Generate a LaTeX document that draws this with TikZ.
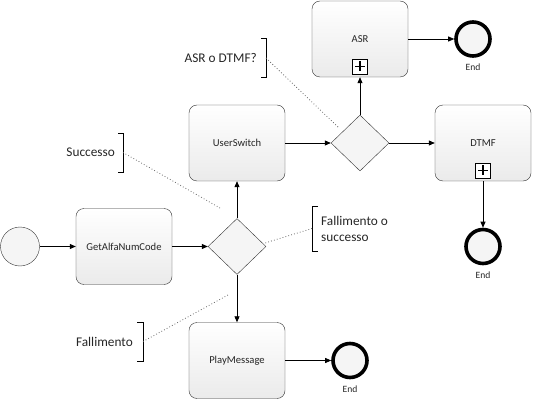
\documentclass[tikz,border=0pt]{standalone}
\usepackage{fontspec}
\setmainfont{Carlito}
\usetikzlibrary{arrows.meta, positioning, calc, shapes.geometric}

\begin{document}
\begin{tikzpicture}[
        x=1pt, y=-1pt,
        every node/.style={font=\fontsize{10.6}{13}\selectfont, text=black!85}, % Carlito everywhere
        task/.style={draw=black!80, rounded corners=8pt, minimum width=96pt, minimum height=76pt, top color=white, bottom color=black!8, inner sep=0pt},
        gateway/.style={draw=black!80, diamond, minimum width=58pt, minimum height=56pt, fill=black!4, inner sep=0pt},
        start_ev/.style={draw=black!80, circle, minimum size=39pt, fill=black!4, inner sep=0pt},
        end_ev/.style={draw=black, line width=3.6pt, circle, minimum size=34pt, fill=black!4, inner sep=0pt},
        sub_mark/.style={draw=black, rectangle, minimum size=15pt, fill=white, inner sep=0pt},
        note/.style={font=\fontsize{13.3}{16}\selectfont, inner sep=0pt, align=left},
        ev_label/.style={font=\fontsize{9.6}{11}\selectfont, inner sep=0pt},
        flow/.style={-{Triangle[length=6pt, width=5pt]}, draw=black, line width=0.8pt},
        assoc/.style={draw=black!60, line width=0.8pt, dash pattern=on 0.8pt off 2.2pt},
        bracket/.style={draw=black, line width=0.8pt}
    ]
        \useasboundingbox (0,0) rectangle (533,401);

        % --- Eventi e attivita ---
        \node[start_ev] (start) at (20,246.5) {};
        \node[task] (get_code) at (124,246.5) {GetAlfaNumCode};
        \node[gateway] (gw_result) at (237,246.5) {};
        \node[task] (user_switch) at (237,143) {UserSwitch};
        \node[task] (play_msg) at (237,360.5) {PlayMessage};
        \node[gateway] (gw_mode) at (360,143) {};
        \node[task] (asr) at (360,39) {ASR};
        \node[task] (dtmf) at (483,143) {DTMF};

        % --- Sottoprocessi: marcatore + ---
        \foreach \t in {asr, dtmf} {
            \node[sub_mark, above=3pt of \t.south] (\t_plus) {};
            \draw[line width=1.8pt] ($(\t_plus.center)+(-5,0)$) -- ($(\t_plus.center)+(5,0)$)
                                    ($(\t_plus.center)+(0,-5)$) -- ($(\t_plus.center)+(0,5)$);
        }

        % --- Eventi di fine ---
        \node[end_ev] (asr_end) at (473,39) {};
        \node[end_ev] (dtmf_end) at (483,246.5) {};
        \node[end_ev] (msg_end) at (350,360.5) {};
        \foreach \e in {asr_end, dtmf_end, msg_end}
            \node[ev_label, below=6pt of \e.south] (\e_lbl) {End};

        % --- Flussi ---
        \draw[flow] (start) -- (get_code);
        \draw[flow] (get_code) -- (gw_result);
        \draw[flow] (gw_result) -- (user_switch);
        \draw[flow] (gw_result) -- (play_msg);
        \draw[flow] (user_switch) -- (gw_mode);
        \draw[flow] (gw_mode) -- (asr);
        \draw[flow] (gw_mode) -- (dtmf);
        \draw[flow] (asr) -- (asr_end);
        \draw[flow] (dtmf) -- (dtmf_end);
        \draw[flow] (play_msg) -- (msg_end);

        % --- Annotazioni ---
        \node[note, anchor=east] (succ_note) at (115,152.5) {Successo};
        \coordinate (succ_br) at ($(succ_note.east)+(8,0)$);
        \coordinate (succ_tip) at (220,208);
        \draw[bracket] ($(succ_br)+(-5,-19.5)$) -- ++(5,0) -- ++(0,39) -- ++(-5,0);
        \draw[assoc] (succ_br) -- (succ_tip);

        \node[note, anchor=east] (fail_note) at (133,341.5) {Fallimento};
        \coordinate (fail_br) at ($(fail_note.east)+(10,0)$);
        \coordinate (fail_tip) at (228,295);
        \draw[bracket] ($(fail_br)+(-6,-19.5)$) -- ++(6,0) -- ++(0,39) -- ++(-6,0);
        \draw[assoc] (fail_br) -- (fail_tip);

        \node[note, anchor=west] (both_note) at (321,228.5) {Fallimento o\\successo};
        \coordinate (both_br) at ($(both_note.west)+(-9,0)$);
        \coordinate (both_tip) at (265,243);
        \draw[bracket] ($(both_br)+(6,-22.5)$) -- ++(-6,0) -- ++(0,45) -- ++(6,0);
        \draw[assoc] (both_br) -- (both_tip);

        \node[note, anchor=east] (mode_note) at (257,58) {ASR o DTMF?};
        \coordinate (mode_br) at ($(mode_note.east)+(9,0)$);
        \coordinate (mode_tip) at (339,128);
        \draw[bracket] ($(mode_br)+(-5,-19.5)$) -- ++(5,0) -- ++(0,39) -- ++(-5,0);
        \draw[assoc] (mode_br) -- (mode_tip);
\end{tikzpicture}
\end{document}
